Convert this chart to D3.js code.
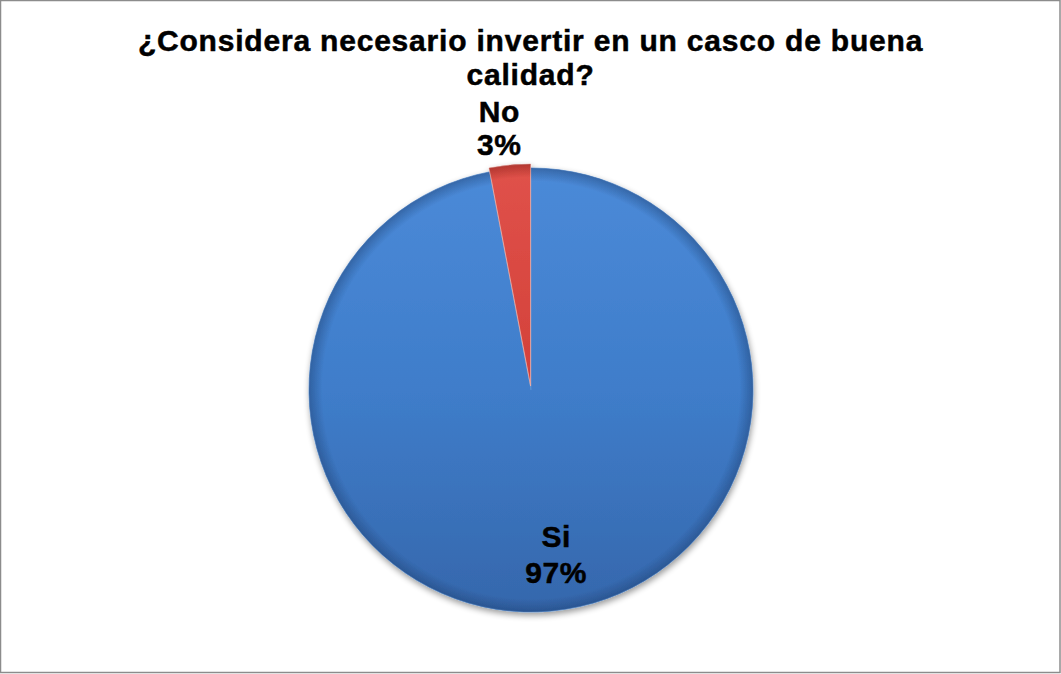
<!DOCTYPE html>
<html>
<head>
<meta charset="utf-8">
<script src="https://cdn.jsdelivr.net/npm/d3@7"></script>
<style>
  html, body { margin: 0; padding: 0; background: #fff; }
  svg { display: block; }
</style>
</head>
<body>
<svg id="chart" width="1061" height="674"></svg>
<script>
// Survey answers and their shares (%)
const categories = ["Si", "No"];
const values = [97, 3];
const titleLines = ["¿Considera necesario invertir en un casco de buena", "calidad?"];

const W = 1061, H = 674;
const cx = 531, cy = 390, R = 222;
const explode = { No: 4 };

const svg = d3.select("#chart");

// frame
svg.append("rect")
  .attr("x", 0.5).attr("y", 0.5).attr("width", W - 1.5).attr("height", H - 2)
  .attr("fill", "#fff").attr("stroke", "#8c8c8c").attr("stroke-width", 1.5);

const defs = svg.append("defs");

// soft drop shadow under the pie
const shadow = defs.append("filter").attr("id", "shadow")
  .attr("x", "-20%").attr("y", "-20%").attr("width", "140%").attr("height", "140%");
shadow.append("feGaussianBlur").attr("in", "SourceAlpha").attr("stdDeviation", 3).attr("result", "b");
shadow.append("feOffset").attr("in", "b").attr("dx", 1).attr("dy", 3).attr("result", "o");
shadow.append("feComponentTransfer").attr("in", "o").attr("result", "s")
  .append("feFuncA").attr("type", "linear").attr("slope", 0.4);
const merge = shadow.append("feMerge");
merge.append("feMergeNode").attr("in", "s");
merge.append("feMergeNode").attr("in", "SourceGraphic");

// slice fills (in pie-local coordinates): vertical shading plus a darker rim
function sliceGradients(id, top, mid, bottom, rim) {
  const lg = defs.append("linearGradient").attr("id", id + "-lin")
    .attr("gradientUnits", "userSpaceOnUse")
    .attr("x1", 0).attr("y1", -R).attr("x2", 0).attr("y2", R);
  lg.append("stop").attr("offset", "0%").attr("stop-color", top);
  lg.append("stop").attr("offset", "50%").attr("stop-color", mid);
  lg.append("stop").attr("offset", "100%").attr("stop-color", bottom);
  const rg = defs.append("radialGradient").attr("id", id + "-rim")
    .attr("gradientUnits", "userSpaceOnUse")
    .attr("cx", 0).attr("cy", 0).attr("r", R);
  rg.append("stop").attr("offset", "0%").attr("stop-color", rim).attr("stop-opacity", 0);
  rg.append("stop").attr("offset", "94%").attr("stop-color", rim).attr("stop-opacity", 0);
  rg.append("stop").attr("offset", "100%").attr("stop-color", rim).attr("stop-opacity", 0.45);
}
sliceGradients("Si", "#4b8ad8", "#3f7dca", "#3567ac", "#1d3f70");
sliceGradients("No", "#e0524a", "#d3403a", "#b8302b", "#7a1510");

const pie = d3.pie().sort(null).value(d => d.value);
const data = pie(categories.map((c, i) => ({ name: c, value: values[i] })));

const arc = d3.arc().innerRadius(0).outerRadius(R);

function offsetOf(d) {
  const k = explode[d.data.name] || 0;
  const a = (d.startAngle + d.endAngle) / 2;
  return [k * Math.sin(a), -k * Math.cos(a)];
}

const g = svg.append("g").attr("transform", `translate(${cx},${cy})`).attr("filter", "url(#shadow)");

const slices = g.selectAll("g.slice").data(data).join("g")
  .attr("class", "slice")
  .attr("transform", d => `translate(${offsetOf(d)})`);

slices.append("path")
  .attr("d", arc)
  .attr("fill", d => `url(#${d.data.name}-lin)`)
  .attr("stroke", d => d.data.name === "No" ? "#eeb0aa" : "#5b8fd0")
  .attr("stroke-width", 0.8);
slices.append("path")
  .attr("d", arc)
  .attr("fill", d => `url(#${d.data.name}-rim)`);

const font = "'Liberation Sans', Arial, sans-serif";

// title
svg.append("text")
  .attr("x", W / 2).attr("y", 51)
  .attr("text-anchor", "middle")
  .style("font-family", font)
  .style("font-weight", "bold").style("font-size", "30px")
  .style("letter-spacing", "0.8px").style("fill", "#000")
  .style("stroke", "#000").style("stroke-width", "0.5px")
  .selectAll("tspan").data(titleLines).join("tspan")
  .attr("x", W / 2).attr("dy", (d, i) => i === 0 ? 0 : 34)
  .text(d => d);

// data labels: category name over percentage
const labelPos = { Si: { r: 176, dx: 8.5, gap: 18 }, No: { r: 252.5, dx: -8, gap: 16.5 } };
const labels = svg.append("g").attr("transform", `translate(${cx},${cy})`);
data.forEach(d => {
  const p = labelPos[d.data.name];
  const a = (d.startAngle + d.endAngle) / 2;
  const x = p.r * Math.sin(a) + p.dx;
  const y = -p.r * Math.cos(a);
  const t = labels.append("text")
    .attr("text-anchor", "middle")
    .style("font-family", font)
    .style("font-weight", "bold").style("font-size", "30px")
    .style("letter-spacing", "0.5px").style("fill", "#000")
    .style("stroke", "#000").style("stroke-width", "0.5px");
  t.append("tspan").attr("x", x).attr("y", y - p.gap).text(d.data.name);
  t.append("tspan").attr("x", x).attr("y", y + p.gap).text(d.data.value + "%");
});
</script>
</body>
</html>
